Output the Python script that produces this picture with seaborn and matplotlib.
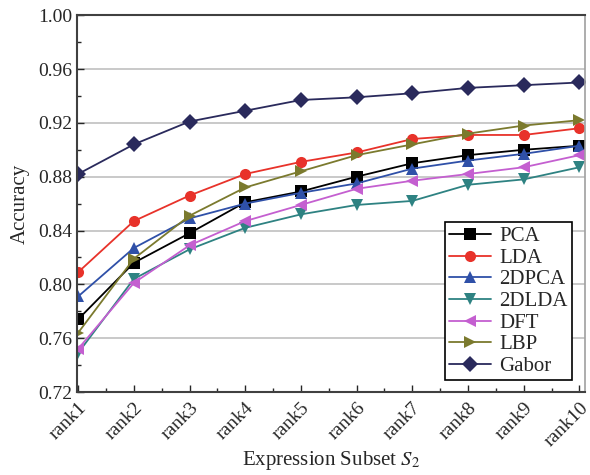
import numpy as np
import pandas as pd
import matplotlib
matplotlib.use('Agg')
import matplotlib.pyplot as plt
import seaborn as sns
from matplotlib.ticker import MultipleLocator

ranks = ['rank1', 'rank2', 'rank3', 'rank4', 'rank5', 'rank6', 'rank7', 'rank8', 'rank9', 'rank10']
pca = [0.774, 0.816, 0.838, 0.861, 0.869, 0.880, 0.890, 0.896, 0.900, 0.903]
lda = [0.809, 0.847, 0.866, 0.882, 0.891, 0.898, 0.908, 0.911, 0.911, 0.916]
dpca2 = [0.791, 0.827, 0.849, 0.860, 0.868, 0.875, 0.886, 0.892, 0.897, 0.903]
dlda2 = [0.749, 0.804, 0.826, 0.842, 0.852, 0.859, 0.862, 0.874, 0.878, 0.887]
dft = [0.752, 0.801, 0.829, 0.847, 0.859, 0.871, 0.877, 0.882, 0.887, 0.896]
lbp = [0.764, 0.819, 0.851, 0.872, 0.884, 0.896, 0.904, 0.912, 0.918, 0.922]
gabor = [0.882, 0.904, 0.921, 0.929, 0.937, 0.939, 0.942, 0.946, 0.948, 0.950]

methods = ['PCA', 'LDA', '2DPCA', '2DLDA', 'DFT', 'LBP', 'Gabor']
vals = [pca, lda, dpca2, dlda2, dft, lbp, gabor]
colors = {'PCA': '#000000', 'LDA': '#e8322a', '2DPCA': '#2f50a8', '2DLDA': '#2e8282',
          'DFT': '#c45fd0', 'LBP': '#7b7a2e', 'Gabor': '#2a2a5c'}
marks = {'PCA': 's', 'LDA': 'o', '2DPCA': '^', '2DLDA': 'v', 'DFT': '<', 'LBP': '>', 'Gabor': 'D'}

rows = []
for m, v in zip(methods, vals):
    for i, a in enumerate(v):
        rows.append({'Method': m, 'x': i, 'Accuracy': a})
df = pd.DataFrame(rows)

sns.set_style('white')
plt.rcParams['font.family'] = ['Liberation Serif', 'DejaVu Serif']
plt.rcParams['mathtext.fontset'] = 'stix'

fig = plt.figure(figsize=(5.9, 4.75), dpi=100)
ax = fig.add_axes([0.1305, 0.1747, 0.861, 0.7933])

ax = sns.lineplot(data=df, x='x', y='Accuracy', hue='Method', style='Method',
                  palette=colors, markers=marks, dashes=False, hue_order=methods,
                  style_order=methods, linewidth=1.3, markersize=8,
                  markeredgewidth=0, ax=ax)

ax.set_xlim(-0.02, 9.1)
ax.set_ylim(0.72, 1.00)
ax.set_xticks(range(10))
ax.set_xticklabels(ranks, rotation=45, ha='right', rotation_mode='anchor', fontsize=14)
ax.xaxis.set_minor_locator(MultipleLocator(0.5))
ax.set_yticks(np.arange(0.72, 1.001, 0.04))
ax.set_yticklabels(['%.2f' % t for t in np.arange(0.72, 1.001, 0.04)], fontsize=14)
ax.yaxis.set_minor_locator(MultipleLocator(0.02))
ax.tick_params(which='both', direction='in', left=True, bottom=True)
ax.tick_params(which='major', length=5, width=1)
ax.tick_params(which='minor', length=3, width=1)
ax.tick_params(axis='x', pad=5)
ax.grid(axis='y', which='major', color='#c0c0c0', linewidth=1.2)
ax.set_axisbelow(True)
for s in ['left', 'bottom', 'top']:
    ax.spines[s].set_color('#404040')
    ax.spines[s].set_linewidth(1.5)
ax.spines['right'].set_color('#a0a0a0')
ax.spines['right'].set_linewidth(1.2)

ax.set_xlabel('Expression Subset $S_2$', fontsize=15, labelpad=0)
ax.set_ylabel('Accuracy', fontsize=15, labelpad=6)

leg = ax.legend(loc='lower right', bbox_to_anchor=(0.982, 0.02), fontsize=15,
                frameon=True, fancybox=False, edgecolor='black', handlelength=2.0,
                borderpad=0.2, labelspacing=0.1, handletextpad=0.4, borderaxespad=0.2)
leg.get_frame().set_linewidth(1.2)
leg.get_frame().set_alpha(1)

fig.savefig('out.png', dpi=100)
